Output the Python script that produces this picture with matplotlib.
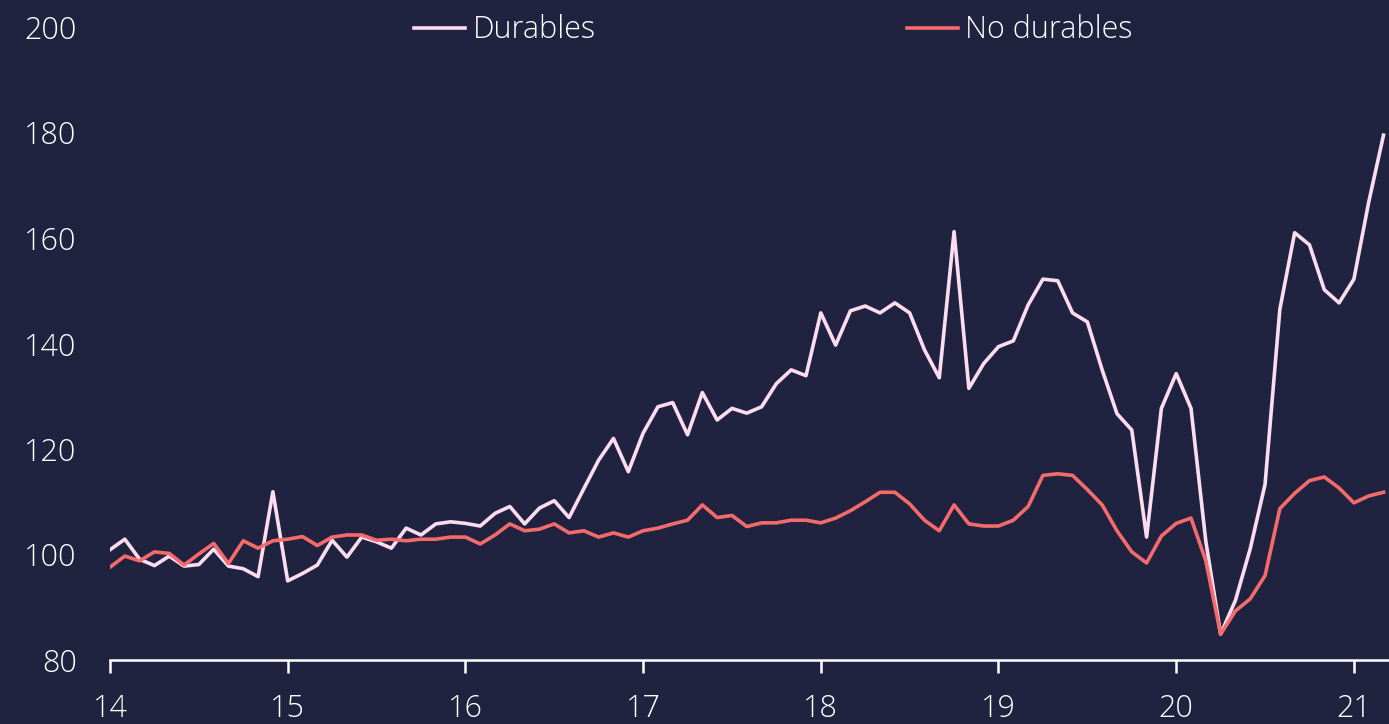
import matplotlib
matplotlib.use("Agg")
import matplotlib.pyplot as plt
import numpy as np

# monthly index values, Jan 2014 .. Mar 2021
durables = [100.9, 102.9, 99.1, 97.9, 99.7, 97.8, 98.1, 101.0, 97.8, 97.3, 95.8, 111.9,
            95.0, 96.4, 98.0, 102.7, 99.5, 103.3, 102.4, 101.2, 105.0, 103.7, 105.8, 106.2,
            105.9, 105.4, 107.8, 109.1, 105.8, 108.8, 110.2, 107.0, 112.5, 117.9, 122.0, 115.7,
            123.0, 128.0, 128.8, 122.7, 130.7, 125.5, 127.7, 126.8, 128.0, 132.4, 135.0, 133.9,
            145.8, 139.7, 146.2, 147.1, 145.8, 147.7, 145.8, 138.8, 133.5, 161.2, 131.5, 136.2,
            139.4, 140.5, 147.3, 152.2, 151.9, 145.8, 144.1, 135.0, 126.7, 123.6, 103.3, 127.7,
            134.3, 127.7, 102.5, 84.9, 91.3, 101.1, 113.3, 146.5, 161.0, 158.7, 150.2, 147.7,
            152.2, 166.8, 179.5]
no_durables = [97.6, 99.7, 98.8, 100.5, 100.2, 98.0, 100.1, 102.1, 98.3, 102.6, 101.2, 102.6,
               102.9, 103.4, 101.7, 103.3, 103.7, 103.7, 102.7, 102.9, 102.6, 102.9, 102.9, 103.3,
               103.3, 102.0, 103.7, 105.8, 104.5, 104.8, 105.8, 104.1, 104.5, 103.3, 104.1, 103.3,
               104.5, 105.0, 105.8, 106.5, 109.4, 107.0, 107.4, 105.3, 106.0, 106.0, 106.5, 106.5,
               106.0, 106.9, 108.3, 110.0, 111.8, 111.8, 109.6, 106.5, 104.5, 109.4, 105.8, 105.4,
               105.4, 106.5, 109.1, 115.0, 115.3, 115.0, 112.3, 109.4, 104.5, 100.5, 98.4, 103.5,
               105.9, 106.9, 98.8, 84.9, 89.3, 91.6, 96.0, 108.7, 111.6, 114.0, 114.7, 112.6,
               109.8, 111.1, 111.8]
year_ticks = [14, 15, 16, 17, 18, 19, 20, 21]
y_ticks = [80, 100, 120, 140, 160, 180, 200]

bg = "#1f2340"
t = 14 + np.arange(len(durables)) / 12.0

plt.rcParams["font.family"] = ["Open Sans", "DejaVu Sans"]
fig = plt.figure(figsize=(13.89, 7.24), dpi=100, facecolor=bg)
ax = fig.add_axes([110 / 1389, 64 / 724, 1279 / 1389, 633 / 724])
ax.set_facecolor(bg)

ax.plot(t, durables, color="#fddcf0", lw=2.6, label="Durables")
ax.plot(t, no_durables, color="#f56b6b", lw=2.6, label="No durables")

ax.set_xlim(14, 14 + 1279 / 177.7)
ax.set_ylim(80, 200)
ax.set_xticks(year_ticks)
ax.set_xticklabels([str(y) for y in year_ticks])
ax.set_yticks(y_ticks)

for s in ["top", "right", "left"]:
    ax.spines[s].set_visible(False)
ax.spines["bottom"].set_color("white")
ax.spines["bottom"].set_linewidth(1.8)
ax.tick_params(axis="x", colors="white", length=9, width=1.8, labelsize=22, pad=15)
ax.tick_params(axis="y", colors="white", length=0, labelsize=22, pad=24)
for lab in ax.get_xticklabels() + ax.get_yticklabels():
    lab.set_fontweight("light")

leg = fig.legend(loc="center", bbox_to_anchor=(0.557, 0.958), ncol=2, frameon=False,
                 handlelength=1.65, handletextpad=0.25, columnspacing=10.2,
                 prop={"size": 22, "weight": "light"})
for txt in leg.get_texts():
    txt.set_color("white")

fig.savefig("out.png", dpi=100, facecolor=bg)
